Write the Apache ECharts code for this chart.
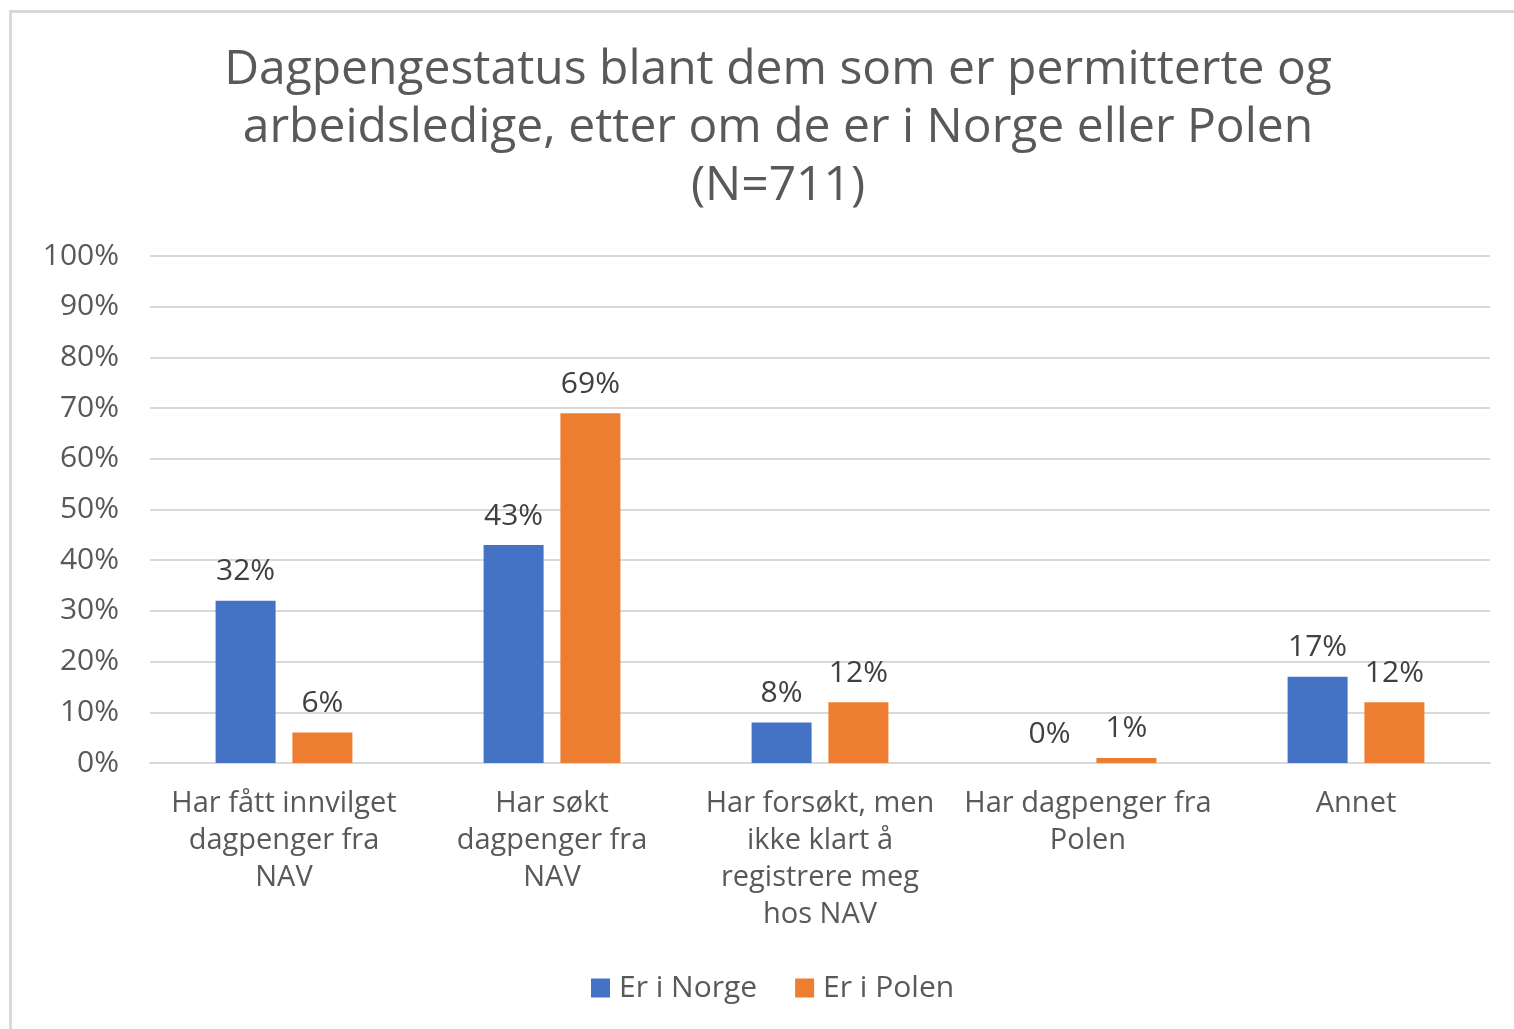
<!DOCTYPE html>
<html>
<head>
<meta charset="utf-8">
<script src="https://cdn.jsdelivr.net/npm/echarts@6/dist/echarts.min.js"></script>
<style>
  html, body { margin: 0; padding: 0; background: #fff; }
  #frame {
    position: absolute; left: 9px; top: 10px; width: 1505px; height: 1019px;
    border-left: 3px solid #d9d9d9; border-top: 3px solid #d9d9d9;
    box-sizing: border-box;
  }
  #chart { position: absolute; left: 0; top: 0; width: 1514px; height: 1029px; }
</style>
</head>
<body>
<div id="frame"></div>
<div id="chart"></div>
<script>
const categories = [
  'Har fått innvilget\ndagpenger fra\nNAV',
  'Har søkt\ndagpenger fra\nNAV',
  'Har forsøkt, men\nikke klart å\nregistrere meg\nhos NAV',
  'Har dagpenger fra\nPolen',
  'Annet'
]
const norge = [32, 43, 8, 0, 17]
const polen = [6, 69, 12, 1, 12]
const yTicks = [0, 10, 20, 30, 40, 50, 60, 70, 80, 90, 100]

const chart = echarts.init(document.getElementById('chart'))
const fontFamily = '"Open Sans", "Noto Sans", sans-serif'
const labelStyle = {
  show: true,
  position: 'top',
  distance: 14,
  formatter: '{c}%',
  color: '#404040',
  fontSize: 30,
  fontFamily: fontFamily
}
const option = {
  animation: false,
  title: {
    text: 'Dagpengestatus blant dem som er permitterte og\narbeidsledige, etter om de er i Norge eller Polen\n(N=711)',
    left: 773,
    textAlign: 'center',
    top: 36,
    textStyle: {
      color: '#595959',
      fontSize: 48,
      fontWeight: 'normal',
      lineHeight: 58,
      fontFamily: fontFamily
    }
  },
  legend: {
    top: 968,
    left: 586,
    itemWidth: 19,
    itemHeight: 19,
    itemGap: 38,
    icon: 'rect',
    textStyle: { color: '#595959', fontSize: 30, fontFamily: fontFamily, padding: [0, 0, 0, 4] }
  },
  grid: { left: 150, right: 24, top: 256, bottom: 266 },
  xAxis: {
    type: 'category',
    data: categories,
    axisTick: { show: false },
    axisLine: { lineStyle: { color: '#d9d9d9', width: 2 } },
    axisLabel: {
      color: '#595959',
      fontSize: 29,
      lineHeight: 37,
      margin: 22,
      interval: 0,
      fontFamily: fontFamily
    }
  },
  yAxis: {
    type: 'value',
    min: yTicks[0],
    max: yTicks[yTicks.length - 1],
    interval: 10,
    axisLine: { show: false },
    axisTick: { show: false },
    splitLine: { lineStyle: { color: '#d9d9d9', width: 2 } },
    axisLabel: {
      formatter: '{value}%',
      color: '#595959',
      fontSize: 30,
      margin: 31,
      fontFamily: fontFamily
    }
  },
  series: [
    {
      name: 'Er i Norge',
      type: 'bar',
      data: norge,
      barWidth: 60,
      barGap: '28%',
      itemStyle: { color: '#4472c4' },
      label: labelStyle
    },
    {
      name: 'Er i Polen',
      type: 'bar',
      data: polen,
      barWidth: 60,
      itemStyle: { color: '#ed7d31' },
      label: labelStyle
    }
  ]
}
chart.setOption(option)
</script>
</body>
</html>
